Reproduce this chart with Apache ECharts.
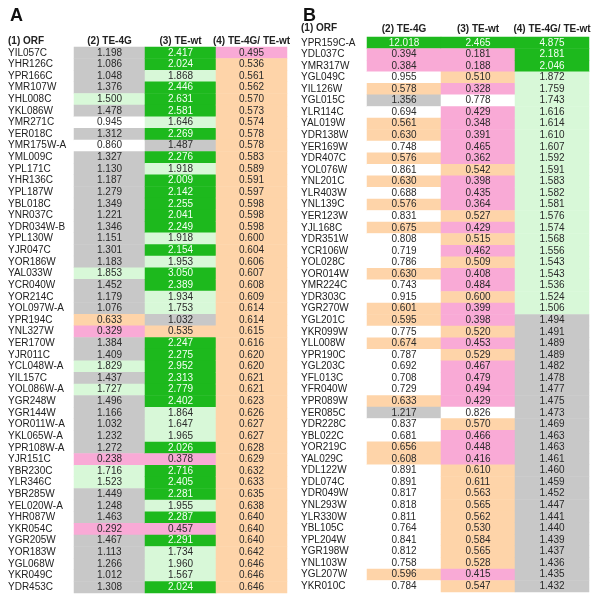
<!DOCTYPE html>
<html>
<head>
<meta charset="utf-8">
<script src="https://cdn.jsdelivr.net/npm/echarts@6/dist/echarts.min.js"></script>
<style>html,body{margin:0;padding:0;background:#fff}#c{width:600px;height:601px}</style>
</head>
<body>
<div id="c"></div>
<script>
const columnHeaders = ['(2) TE-4G', '(3) TE-wt', '(4) TE-4G/ TE-wt'];

const orfA = ['YIL057C','YHR126C','YPR166C','YMR107W','YHL008C','YKL086W','YMR271C','YER018C','YMR175W-A','YML009C',
  'YPL171C','YHR136C','YPL187W','YBL018C','YNR037C','YDR034W-B','YPL130W','YJR047C','YOR186W','YAL033W',
  'YCR040W','YOR214C','YOL097W-A','YPR194C','YNL327W','YER170W','YJR011C','YCL048W-A','YIL157C','YOL086W-A',
  'YGR248W','YGR144W','YOR011W-A','YKL065W-A','YPR108W-A','YJR151C','YBR230C','YLR346C','YBR285W','YEL020W-A',
  'YHR087W','YKR054C','YGR205W','YOR183W','YGL068W','YKR049C','YDR453C'];
const te4gA = [1.198,1.086,1.048,1.376,1.500,1.478,0.945,1.312,0.860,1.327,
  1.130,1.187,1.279,1.349,1.221,1.346,1.151,1.301,1.183,1.853,
  1.452,1.179,1.076,0.633,0.329,1.384,1.409,1.829,1.437,1.727,
  1.496,1.166,1.032,1.232,1.272,0.238,1.716,1.523,1.449,1.248,
  1.463,0.292,1.467,1.113,1.266,1.012,1.308];
const tewtA = [2.417,2.024,1.868,2.446,2.631,2.581,1.646,2.269,1.487,2.276,
  1.918,2.009,2.142,2.255,2.041,2.249,1.918,2.154,1.953,3.050,
  2.389,1.934,1.753,1.032,0.535,2.247,2.275,2.952,2.313,2.779,
  2.402,1.864,1.647,1.965,2.026,0.378,2.716,2.405,2.281,1.955,
  2.287,0.457,2.291,1.734,1.960,1.567,2.024];
const ratioA = [0.495,0.536,0.561,0.562,0.570,0.573,0.574,0.578,0.578,0.583,
  0.589,0.591,0.597,0.598,0.598,0.598,0.600,0.604,0.606,0.607,
  0.608,0.609,0.614,0.614,0.615,0.616,0.620,0.620,0.621,0.621,
  0.623,0.626,0.627,0.627,0.628,0.629,0.632,0.633,0.635,0.638,
  0.640,0.640,0.640,0.642,0.646,0.646,0.646];

const orfB = ['YPR159C-A','YDL037C','YMR317W','YGL049C','YIL126W','YGL015C','YLR114C','YAL019W','YDR138W','YER169W',
  'YDR407C','YOL076W','YNL201C','YLR403W','YNL139C','YER123W','YJL168C','YDR351W','YCR106W','YOL028C',
  'YOR014W','YMR224C','YDR303C','YGR270W','YGL201C','YKR099W','YLL008W','YPR190C','YGL203C','YFL013C',
  'YFR040W','YPR089W','YER085C','YDR228C','YBL022C','YOR219C','YAL029C','YDL122W','YDL074C','YDR049W',
  'YNL293W','YLR330W','YBL105C','YPL204W','YGR198W','YNL103W','YGL207W','YKR010C'];
const te4gB = [12.018,0.394,0.384,0.955,0.578,1.356,0.694,0.561,0.630,0.748,
  0.576,0.861,0.630,0.688,0.576,0.831,0.675,0.808,0.719,0.786,
  0.630,0.743,0.915,0.601,0.595,0.775,0.674,0.787,0.692,0.708,
  0.729,0.633,1.217,0.837,0.681,0.656,0.608,0.891,0.891,0.817,
  0.818,0.811,0.764,0.841,0.812,0.758,0.596,0.784];
const tewtB = [2.465,0.181,0.188,0.510,0.328,0.778,0.429,0.348,0.391,0.465,
  0.362,0.542,0.398,0.435,0.364,0.527,0.429,0.515,0.462,0.509,
  0.408,0.484,0.600,0.399,0.398,0.520,0.453,0.529,0.467,0.479,
  0.494,0.429,0.826,0.570,0.466,0.448,0.416,0.610,0.611,0.563,
  0.565,0.562,0.530,0.584,0.565,0.528,0.415,0.547];
const ratioB = [4.875,2.181,2.046,1.872,1.759,1.743,1.616,1.614,1.610,1.607,
  1.592,1.591,1.583,1.582,1.581,1.576,1.574,1.568,1.556,1.543,
  1.543,1.536,1.524,1.506,1.494,1.491,1.489,1.489,1.482,1.478,
  1.477,1.475,1.473,1.469,1.463,1.463,1.461,1.460,1.459,1.452,
  1.447,1.441,1.440,1.439,1.437,1.436,1.435,1.432];

const GREEN = '#1db91d', LIGHTGREEN = '#d8f8d8', GRAY = '#c8c8c8', WHITE = '#ffffff', ORANGE = '#fed4a9', PINK = '#f9aad6';

function buildData(cols) {
  const out = [];
  cols.forEach((arr, c) => {
    arr.forEach((v, r) => {
      out.push({ value: [c, r, v], label: { color: v >= 2 ? '#f4fff4' : '#2a2a2a' } });
    });
  });
  return out;
}

const chart = echarts.init(document.getElementById('c'), null, { renderer: 'canvas' });
const font = 'Liberation Sans, Arial, sans-serif';

function xAxisFor(gi, margin) {
  return {
    gridIndex: gi, type: 'category', position: 'top', data: columnHeaders,
    axisLine: { show: false }, axisTick: { show: false }, splitLine: { show: false },
    axisLabel: { fontFamily: font, fontSize: 10, fontWeight: 'bold', color: '#222', margin: margin, interval: 0 }
  };
}
function yAxisFor(gi, names) {
  return {
    gridIndex: gi, type: 'category', inverse: true, data: names,
    axisLine: { show: false }, axisTick: { show: false }, splitLine: { show: false },
    axisLabel: { fontFamily: font, fontSize: 10, color: '#222', align: 'left', margin: 66, interval: 0 }
  };
}
const labelCfg = { show: true, fontFamily: font, fontSize: 10, formatter: p => p.value[2].toFixed(3) };

chart.setOption({
  animation: false,
  backgroundColor: '#fff',
  title: [
    { text: 'A', left: 10, top: 7, padding: 0, textStyle: { fontFamily: font, fontSize: 18, fontWeight: 'bold', color: '#111' } },
    { text: 'B', left: 303, top: 7, padding: 0, textStyle: { fontFamily: font, fontSize: 18, fontWeight: 'bold', color: '#111' } },
    { text: '(1) ORF', left: 8, top: 36, padding: 0, textStyle: { fontFamily: font, fontSize: 10, fontWeight: 'bold', color: '#222' } },
    { text: '{n|(1) }{b|ORF}', left: 301, top: 23, padding: 0, textStyle: { rich: {
        n: { fontFamily: font, fontSize: 10, color: '#222' },
        b: { fontFamily: font, fontSize: 10, fontWeight: 'bold', color: '#222' } } } }
  ],
  grid: [
    { left: 74, top: 47, width: 213, height: 546 },
    { left: 367, top: 37, width: 222, height: 555 }
  ],
  xAxis: [xAxisFor(0, 1), xAxisFor(1, 3)],
  yAxis: [yAxisFor(0, orfA), yAxisFor(1, orfB)],
  visualMap: {
    type: 'piecewise', show: false, dimension: 2, seriesIndex: [0, 1],
    pieces: [
      { lt: 0.5, color: PINK },
      { gte: 0.5, lt: 0.678, color: ORANGE },
      { gte: 0.678, lt: 1, color: WHITE },
      { gte: 1, lt: 1.5, color: GRAY },
      { gte: 1.5, lt: 2, color: LIGHTGREEN },
      { gte: 2, color: GREEN }
    ]
  },
  series: [
    { type: 'heatmap', xAxisIndex: 0, yAxisIndex: 0, data: buildData([te4gA, tewtA, ratioA]),
      label: labelCfg, emphasis: { disabled: true }, itemStyle: { borderWidth: 0 } },
    { type: 'heatmap', xAxisIndex: 1, yAxisIndex: 1, data: buildData([te4gB, tewtB, ratioB]),
      label: labelCfg, emphasis: { disabled: true }, itemStyle: { borderWidth: 0 } }
  ]
});
</script>
</body>
</html>
